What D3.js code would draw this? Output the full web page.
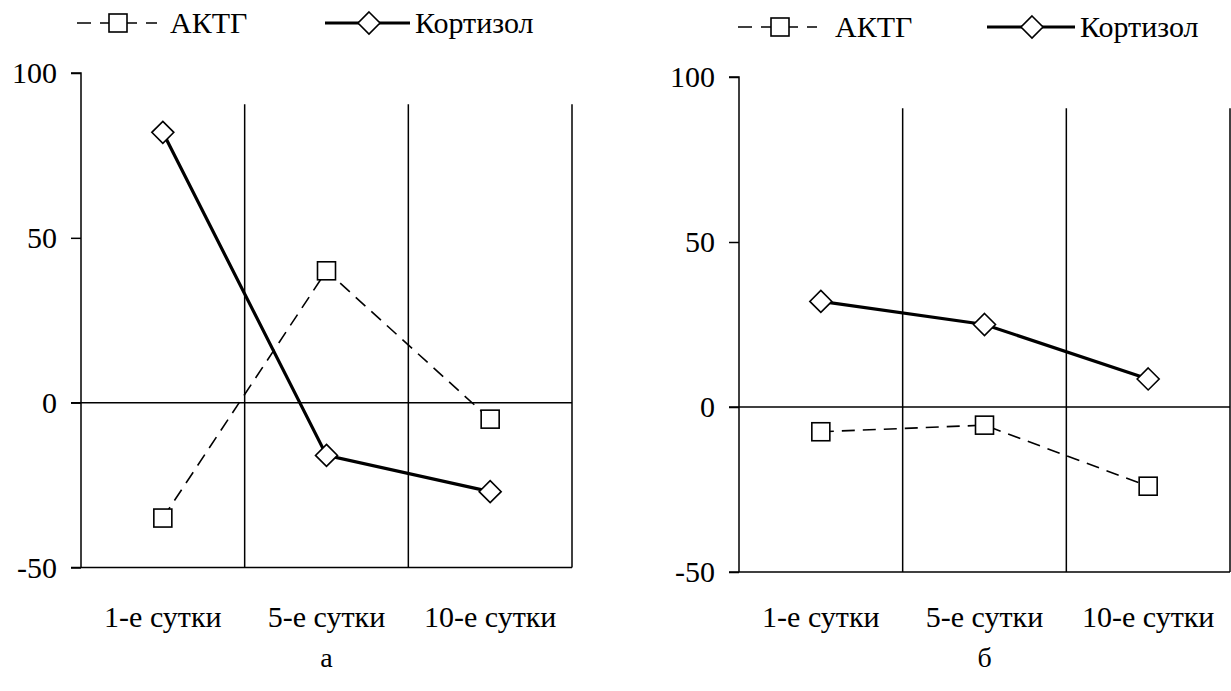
<!DOCTYPE html>
<html>
<head>
<meta charset="utf-8">
<script src="https://cdn.jsdelivr.net/npm/d3@7/dist/d3.min.js"></script>
<style>
  html, body { margin: 0; padding: 0; background: #fff; }
  svg { display: block; }
</style>
</head>
<body>
<svg id="chart" width="1231" height="691" font-family="Liberation Serif"></svg>
<script>
// ---- data ----
const categories = ["1-е сутки", "5-е сутки", "10-е сутки"];
const seriesNames = ["АКТГ", "Кортизол"];
const actgA = [-35, 40, -5];
const cortA = [82, -16, -27];
const actgB = [-7.5, -5.5, -24];
const cortB = [32, 25, 8.5];
const yTicks = [-50, 0, 50, 100];
const panelLabels = ["а", "б"];

const FONT = "Liberation Serif";
const FS = 30;
const svg = d3.select("#chart");

const panels = [
  { x0: 81, x1: 572, yTop: 73, yBot: 567.5, actg: actgA, cort: cortA, label: panelLabels[0],
    legY: 23, leg: { dash: [77, 157, 118], dashText: 170, solid: [325, 410, 369], solidText: 415 } },
  { x0: 739, x1: 1230, yTop: 77, yBot: 572, actg: actgB, cort: cortB, label: panelLabels[1],
    legY: 27, leg: { dash: [738, 817, 780], dashText: 835, solid: [987, 1075, 1032], solidText: 1080 } }
];

function txt(g, x, y, s, size, anchor) {
  return g.append("text").attr("x", x).attr("y", y)
    .attr("text-anchor", anchor || "start")
    .attr("font-family", FONT).attr("font-size", size).attr("fill", "#000")
    .text(s);
}
function square(g, x, y, s) {
  g.append("rect").attr("x", x - s / 2).attr("y", y - s / 2).attr("width", s).attr("height", s)
    .attr("fill", "#fff").attr("stroke", "#000").attr("stroke-width", 1.6);
}
function diamond(g, x, y, r) {
  g.append("path").attr("d", `M${x},${y - r}L${x + r},${y}L${x},${y + r}L${x - r},${y}Z`)
    .attr("fill", "#fff").attr("stroke", "#000").attr("stroke-width", 1.6);
}

panels.forEach(p => {
  const g = svg.append("g").attr("font-family", FONT);
  const x = d3.scaleBand().domain(categories).range([p.x0, p.x1]).padding(0);
  const y = d3.scaleLinear().domain([-50, 100]).range([p.yBot, p.yTop]);

  // vertical category gridlines
  const bounds = [1, 2, 3].map(i => p.x0 + x.step() * i);
  g.selectAll(".vg").data(bounds).enter().append("line")
    .attr("x1", d => d).attr("x2", d => d)
    .attr("y1", y(90.5)).attr("y2", y(-50))
    .attr("stroke", "#000").attr("stroke-width", 1.5);

  // horizontal lines at 0 and -50
  [0, -50].forEach(v => {
    g.append("line").attr("x1", p.x0 - 10).attr("x2", p.x1)
      .attr("y1", y(v)).attr("y2", y(v))
      .attr("stroke", "#000").attr("stroke-width", 1.5);
  });

  // y axis
  const yAxis = d3.axisLeft(y).tickValues(yTicks).tickSize(10).tickPadding(14).tickFormat(d3.format("d"));
  const ya = g.append("g").attr("transform", `translate(${p.x0},0)`).call(yAxis);
  ya.attr("font-family", FONT).attr("font-size", FS);
  ya.select(".domain").attr("d", `M-10,${y(100)}H0V${y(-50)}`).attr("stroke", "#000").attr("stroke-width", 1.5);
  ya.selectAll(".tick line").attr("stroke", "#000").attr("stroke-width", 1.5);
  ya.selectAll(".tick text")
    .attr("font-family", FONT).attr("font-size", FS).attr("fill", "#000")
    .text(d => d < 0 ? "-" + Math.abs(d) : String(d));

  // category labels
  categories.forEach(c => txt(g, x(c) + x.bandwidth() / 2, 627, c, FS, "middle"));

  // panel label
  txt(g, p.x0 + x.step() * 1.5, 667, p.label, 28, "middle");

  const cx = (d, i) => x(categories[i]) + x.bandwidth() / 2;
  const line = d3.line().x(cx).y(d => y(d));

  g.append("path").attr("d", line(p.actg)).attr("fill", "none").attr("stroke", "#000")
    .attr("stroke-width", 1.6).attr("stroke-dasharray", "13,8");
  g.append("path").attr("d", line(p.cort)).attr("fill", "none").attr("stroke", "#000")
    .attr("stroke-width", 3.2);

  p.actg.forEach((d, i) => square(g, cx(d, i), y(d), 18));
  p.cort.forEach((d, i) => diamond(g, cx(d, i), y(d), 11));

  // legend
  const L = p.leg, ly = p.legY;
  g.append("line").attr("x1", L.dash[0]).attr("x2", L.dash[1]).attr("y1", ly).attr("y2", ly)
    .attr("stroke", "#000").attr("stroke-width", 1.6).attr("stroke-dasharray", "14,9");
  square(g, L.dash[2], ly, 18);
  txt(g, L.dashText, ly + 10, seriesNames[0], FS);
  g.append("line").attr("x1", L.solid[0]).attr("x2", L.solid[1]).attr("y1", ly).attr("y2", ly)
    .attr("stroke", "#000").attr("stroke-width", 3.2);
  diamond(g, L.solid[2], ly, 11);
  txt(g, L.solidText, ly + 10, seriesNames[1], FS);
});
</script>
</body>
</html>
